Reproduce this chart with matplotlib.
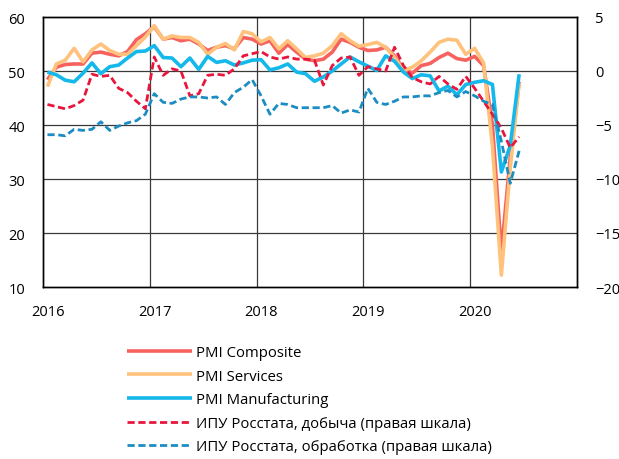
import numpy as np
import matplotlib
matplotlib.use("Agg")
import matplotlib.pyplot as plt

plt.rcParams['font.family'] = ['Open Sans', 'DejaVu Sans']

# Monthly data, Jan 2016 - Jun 2020
pmi_composite = [
    48.4, 50.7, 51.2, 51.3, 51.3, 53.3, 53.5, 53.1, 52.8, 53.6, 55.8, 56.9,
    58.2, 55.9, 56.2, 55.6, 55.9, 55.0, 53.8, 54.4, 54.7, 54.1, 56.2, 55.9,
    55.0, 55.6, 53.3, 54.9, 53.5, 52.2, 51.9, 52.2, 53.5, 55.9, 55.3, 54.4,
    53.8, 53.9, 54.4, 52.8, 50.4, 49.6, 51.0, 51.4, 52.5, 53.3, 52.3, 52.0,
    52.7, 51.0, 40.0, 16.4, 34.0, 48.0,
]
pmi_services = [
    47.1, 51.3, 52.0, 54.2, 51.7, 53.9, 55.0, 53.8, 53.1, 53.1, 54.7, 56.3,
    58.4, 55.9, 56.5, 56.2, 56.2, 55.3, 53.1, 54.4, 55.1, 53.9, 57.3, 56.9,
    55.4, 56.2, 54.1, 55.6, 54.1, 52.5, 52.8, 53.3, 54.7, 56.9, 55.6, 54.6,
    54.9, 55.3, 54.4, 52.5, 50.1, 50.7, 51.9, 53.5, 55.3, 55.9, 55.7, 53.1,
    54.2, 51.5, 36.0, 12.2, 32.0, 47.8,
]
pmi_manufacturing = [
    49.8, 49.3, 48.3, 48.0, 49.6, 51.5, 49.5, 50.8, 51.1, 52.4, 53.6, 53.7,
    54.7, 52.5, 52.4, 50.8, 52.4, 50.3, 52.7, 51.6, 51.9, 51.1, 51.5, 52.0,
    52.1, 50.2, 50.6, 51.3, 49.8, 49.5, 48.1, 48.9, 50.0, 51.3, 52.6, 51.7,
    50.9, 50.1, 52.8, 51.8, 49.8, 48.6, 49.3, 49.1, 46.3, 47.2, 45.6, 47.5,
    47.9, 48.2, 47.5, 31.3, 36.2, 49.4,
]
ipu_mining = [
    -3.1, -3.3, -3.5, -3.2, -2.7, -0.3, -0.5, -0.4, -1.6, -2.0, -2.8, -3.5,
    1.3, -0.4, 0.2, 0.0, -2.3, -2.1, -0.4, -0.3, -0.4, 0.2, 1.4, 1.6,
    1.8, 1.3, 1.1, 1.3, 1.1, 1.1, 1.0, -1.3, 0.5, 1.2, 1.3, -0.4,
    0.4, 0.2, 0.0, 2.2, 0.5, -0.6, -1.0, -1.2, -0.5, -1.2, -1.7, -0.5,
    -1.6, -2.8, -4.0, -5.3, -7.1, -6.1,
]
ipu_manufacturing = [
    -5.9, -5.9, -6.0, -5.4, -5.5, -5.4, -4.7, -5.5, -5.1, -4.8, -4.6, -4.0,
    -2.1, -2.9, -3.0, -2.6, -2.4, -2.4, -2.5, -2.4, -3.1, -2.0, -1.5, -0.8,
    -2.3, -4.0, -3.0, -3.1, -3.4, -3.4, -3.4, -3.4, -3.2, -3.9, -3.6, -3.8,
    -1.6, -2.9, -3.1, -2.8, -2.4, -2.4, -2.3, -2.3, -2.0, -1.8, -2.4, -1.9,
    -2.3, -2.8, -3.1, -6.5, -10.4, -7.4,
]
years = [2016, 2017, 2018, 2019, 2020]

labels = [
    "PMI Composite",
    "PMI Services",
    "PMI Manufacturing",
    "ИПУ Росстата, добыча (правая шкала)",
    "ИПУ Росстата, обработка (правая шкала)",
]

n = len(pmi_composite)
x = 2016 + (np.arange(n) + 0.5) / 12

fig = plt.figure(figsize=(6.19, 4.60), dpi=100)
ax = fig.add_axes([43 / 619, 1 - 288 / 460, 534 / 619, 270 / 460])
ax2 = ax.twinx()

grid_kw = dict(color="#3a3a3a", linewidth=0.9, zorder=0)
for v in [20, 30, 40, 50]:
    ax.axhline(v, **grid_kw)
for yr in years[1:]:
    ax.axvline(yr, **grid_kw)

h1, = ax.plot(x, pmi_composite, color="#F6635F", lw=2.6, solid_capstyle="butt", zorder=3)
h2, = ax.plot(x, pmi_services, color="#FFC27D", lw=2.6, solid_capstyle="butt", zorder=4)
h3, = ax.plot(x, pmi_manufacturing, color="#14B8EA", lw=2.6, solid_capstyle="butt", zorder=5)
h4, = ax2.plot(x, ipu_mining, color="#E8163C", lw=2.0, dashes=(2.6, 1.3), zorder=6)
h5, = ax2.plot(x, ipu_manufacturing, color="#1B8DC2", lw=2.0, dashes=(2.6, 1.3), zorder=7)

ax.set_xlim(2016, 2021)
ax.set_ylim(10, 60)
ax.set_yticks([10, 20, 30, 40, 50, 60])
ax2.set_ylim(-20, 5)
ax2.set_yticks([-20, -15, -10, -5, 0, 5])

ax.set_xticks(years + [2021])
ax.set_xticklabels([])
ax.set_xticks([yr + 0.045 for yr in years], minor=True)
ax.set_xticklabels([str(yr) for yr in years], minor=True)
ax.tick_params(axis="x", which="both", length=0)
ax.tick_params(axis="x", which="minor", pad=12, labelsize=10.5)
ax.tick_params(axis="y", length=0, pad=13, labelsize=10.5)
ax2.tick_params(axis="y", length=0, pad=13, labelsize=10.5)

for a in (ax, ax2):
    for s in a.spines.values():
        s.set_color("black")
        s.set_linewidth(1.0)

ax.set_zorder(ax2.get_zorder() - 1)
ax2.patch.set_visible(False)

fig.legend([h1, h2, h3, h4, h5], labels, loc="upper left",
           bbox_to_anchor=(127 / 619, 1 - 346 / 460), frameon=False,
           borderpad=0, borderaxespad=0, handlelength=4.4, handletextpad=0.25,
           labelspacing=0.58, fontsize=10.7)

fig.savefig("out.png", dpi=100)
